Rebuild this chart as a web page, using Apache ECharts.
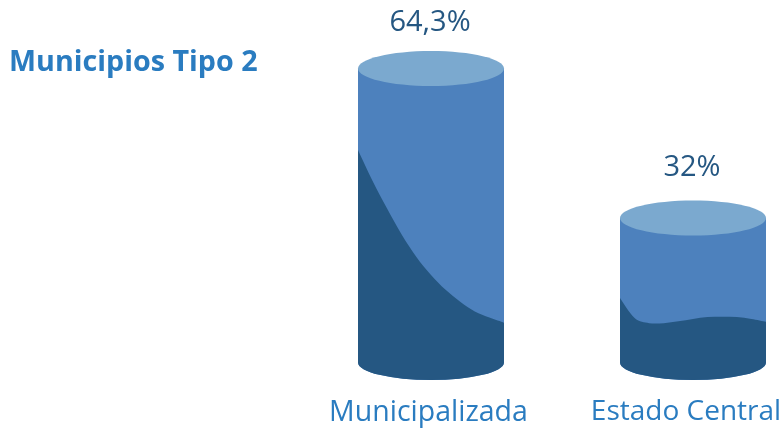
<!DOCTYPE html>
<html>
<head>
<meta charset="utf-8">
<style>
  html, body { margin: 0; padding: 0; background: #fff; }
  #chart { width: 784px; height: 432px; }
</style>
<script src="https://cdn.jsdelivr.net/npm/echarts@6/dist/echarts.min.js"></script>
</head>
<body>
<div id="chart"></div>
<script>
const categories = ['Municipalizada', 'Estado Central']
const values = [64.3, 32]
const valueLabels = ['64,3%', '32%']
// height of the dark wave, read left to right across each cylinder, in axis units
const waveMunicipalizada = [46.7, 40.0, 34.0, 28.4, 23.6, 19.7, 16.5, 13.9, 11.8, 10.5, 9.4]
const waveEstadoCentral = [14.7, 10.4, 9.3, 9.3, 9.7, 10.2, 10.6, 10.7, 10.6, 10.2, 9.6]
const waves = [waveMunicipalizada, waveEstadoCentral]

const colorTop = '#7ba9cf'
const colorSide = '#4d81bd'
const colorDark = '#255782'
const colorLabel = '#2a7cc0'
const fontName = '"Open Sans", "Noto Sans", sans-serif'

const halfWidth = 73
const ry = 17.5
const labelGap = [45.5, 50]

// catmull-rom through the wave points, as bezier segments
function wavePath (pts) {
  let d = ''
  for (let i = 0; i < pts.length - 1; i++) {
    const p0 = pts[Math.max(i - 1, 0)]
    const p1 = pts[i]
    const p2 = pts[i + 1]
    const p3 = pts[Math.min(i + 2, pts.length - 1)]
    const c1x = p1[0] + (p2[0] - p0[0]) / 6
    const c1y = p1[1] + (p2[1] - p0[1]) / 6
    const c2x = p2[0] - (p3[0] - p1[0]) / 6
    const c2y = p2[1] - (p3[1] - p1[1]) / 6
    d += ' C' + c1x + ' ' + c1y + ' ' + c2x + ' ' + c2y + ' ' + p2[0] + ' ' + p2[1]
  }
  return d
}

function renderCylinder (params, api) {
  const idx = params.dataIndex
  const top = api.coord([api.value(0), api.value(1)])
  const bottomY = params.coordSys.y + params.coordSys.height
  const cx = top[0]
  const x0 = cx - halfWidth
  const x1 = cx + halfWidth
  const wave = waves[idx]
  const pts = wave.map((v, i) => [x0 + (x1 - x0) * i / (wave.length - 1), api.coord([api.value(0), v])[1]])
  const base = ' L' + x1 + ' ' + bottomY + ' A' + halfWidth + ' ' + ry + ' 0 0 1 ' + x0 + ' ' + bottomY + ' Z'
  return {
    type: 'group',
    children: [
      {
        type: 'path',
        shape: { pathData: 'M' + x0 + ' ' + top[1] + ' L' + x1 + ' ' + top[1] + base },
        style: { fill: colorSide }
      },
      {
        type: 'path',
        shape: { pathData: 'M' + pts[0][0] + ' ' + pts[0][1] + wavePath(pts) + base },
        style: { fill: colorDark }
      },
      {
        type: 'ellipse',
        shape: { cx: cx, cy: top[1], rx: halfWidth, ry: ry },
        style: { fill: colorTop }
      },
      {
        type: 'text',
        style: {
          text: valueLabels[idx],
          x: cx - 1,
          y: top[1] - labelGap[idx],
          align: 'center',
          verticalAlign: 'middle',
          fill: colorDark,
          font: '29px ' + fontName
        }
      }
    ]
  }
}

const chart = echarts.init(document.getElementById('chart'), null, { renderer: 'canvas' })
chart.setOption({
  animation: false,
  backgroundColor: '#fff',
  title: {
    text: 'Municipios Tipo 2',
    left: 9,
    top: 48,
    padding: 0,
    textStyle: { color: colorLabel, fontFamily: fontName, fontWeight: 'bold', fontSize: 28.7 }
  },
  grid: { left: 431, right: 91, top: 42, bottom: 69.5, outerBoundsMode: 'none' },
  xAxis: {
    type: 'category',
    data: categories,
    boundaryGap: false,
    axisLine: { show: false },
    axisTick: { show: false },
    axisLabel: {
      margin: 36,
      hideOverlap: false,
      formatter: (v, i) => '{l' + i + '|' + v + '}',
      rich: {
        l0: { color: colorLabel, fontFamily: fontName, fontSize: 28.5, padding: [0, 5, 0, 0] },
        l1: { color: colorLabel, fontFamily: fontName, fontSize: 28, padding: [0, 14, 0, 0] }
      }
    }
  },
  yAxis: {
    type: 'value',
    min: 0.8,
    max: 70,
    show: false
  },
  series: [{
    type: 'custom',
    clip: false,
    silent: true,
    renderItem: renderCylinder,
    encode: { x: 0, y: 1 },
    data: categories.map((c, i) => [i, values[i]])
  }]
})
</script>
</body>
</html>
